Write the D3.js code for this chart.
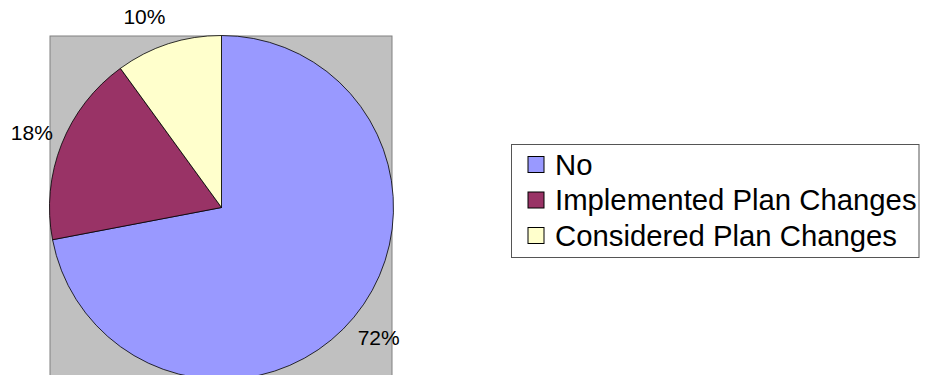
<!DOCTYPE html>
<html>
<head>
<meta charset="utf-8">
<script src="https://cdn.jsdelivr.net/npm/d3@7"></script>
<style>
  html, body { margin: 0; padding: 0; background: #fff; }
  svg { display: block; }
  text { font-family: "Liberation Sans", Arial, sans-serif; fill: #000; }
</style>
</head>
<body>
<svg id="chart" width="926" height="375"></svg>
<script>
const categories = ["No", "Implemented Plan Changes", "Considered Plan Changes"];
const values = [72, 18, 10];
const labels = ["72%", "18%", "10%"];
const colors = ["#9999FF", "#993366", "#FFFFCC"];

const svg = d3.select("#chart");
const cx = 221.5, cy = 207.5, r = 172;

// plot area
svg.append("rect")
  .attr("x", 50).attr("y", 36)
  .attr("width", 342).attr("height", 360)
  .attr("fill", "#C0C0C0")
  .attr("stroke", "#808080")
  .attr("stroke-width", 1);

const pie = d3.pie().sort(null).startAngle(0).endAngle(2 * Math.PI);
const arcs = pie(values);
const arc = d3.arc().innerRadius(0).outerRadius(r);
const labelArc = d3.arc().innerRadius(204).outerRadius(204);

const g = svg.append("g").attr("transform", `translate(${cx},${cy})`);
g.selectAll("path.slice")
  .data(arcs)
  .enter().append("path")
  .attr("class", "slice")
  .attr("d", arc)
  .attr("fill", (d, i) => colors[i])
  .attr("stroke", "#000")
  .attr("stroke-width", 0.8);

g.selectAll("text.lbl")
  .data(arcs)
  .enter().append("text")
  .attr("class", "lbl")
  .attr("transform", d => {
    const [x, y] = labelArc.centroid(d);
    // Excel best-fit pushes small top labels slightly toward the left
    const nudge = (d.endAngle - d.startAngle) < 0.7 ? -14 : 0;
    return `translate(${x + nudge},${y + (nudge ? 3 : 0)})`;
  })
  .attr("text-anchor", "middle")
  .attr("dy", "0.36em")
  .style("font-size", "21px")
  .text((d, i) => labels[i]);

// legend
const lg = svg.append("g");
lg.append("rect")
  .attr("x", 511.5).attr("y", 144.5)
  .attr("width", 407.5).attr("height", 113)
  .attr("fill", "#fff")
  .attr("stroke", "#555")
  .attr("stroke-width", 1);

const rowY = d3.scalePoint().domain(categories).range([164.5, 235.5]);
const items = lg.selectAll("g.item")
  .data(categories)
  .enter().append("g")
  .attr("class", "item")
  .attr("transform", d => `translate(0,${rowY(d)})`);
items.append("rect")
  .attr("x", 528).attr("y", -8)
  .attr("width", 16).attr("height", 16)
  .attr("fill", (d, i) => colors[i])
  .attr("stroke", "#000")
  .attr("stroke-width", 1);
items.append("text")
  .attr("x", 555).attr("y", 10)
  .style("font-size", "29.3px")
  .text(d => d);
</script>
</body>
</html>
